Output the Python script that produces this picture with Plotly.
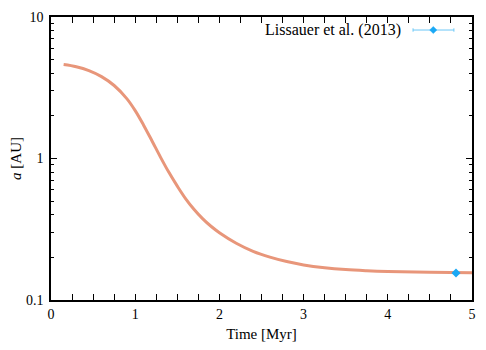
import plotly.graph_objects as go

# Curve: semi-major axis vs time
time_myr = [0.15, 0.3, 0.45, 0.6, 0.75, 0.9, 1.0, 1.1, 1.2, 1.3, 1.4, 1.5, 1.6, 1.7, 1.8, 1.9, 2.0,
            2.2, 2.4, 2.6, 2.8, 3.0, 3.25, 3.5, 3.75, 4.0, 4.5, 5.0]
a_au = [4.61, 4.45, 4.18, 3.79, 3.28, 2.65, 2.18, 1.72, 1.33, 1.023, 0.798, 0.638, 0.519, 0.436, 0.376, 0.332, 0.299,
        0.252, 0.221, 0.201, 0.187, 0.177, 0.169, 0.164, 0.161, 0.159, 0.157, 0.156]

# Observation point
obs_time = [4.81]
obs_a = [0.155]
obs_label = "Lissauer et al. (2013)"

x_ticks = [0, 1, 2, 3, 4, 5]
y_tickvals = [0.1, 1, 10]
y_ticktext = ["0.1", "1", "10"]
y_minor = [m * d for d in (0.1, 1) for m in range(2, 10)]

FONT = "Liberation Serif"
FS_TICK = 14
FS_TEXT = 15
fig = go.Figure()
fig.add_trace(go.Scatter(x=time_myr, y=a_au, mode="lines",
                         line=dict(color="#E8967A", width=3, shape="spline", smoothing=1.0),
                         showlegend=False))
fig.add_trace(go.Scatter(x=obs_time, y=obs_a, mode="markers",
                         marker=dict(symbol="diamond", size=7, color="#1AA8F5"),
                         showlegend=False))
# invisible trace so the minor-tick overlay axis is drawn
fig.add_trace(go.Scatter(x=obs_time, y=obs_a, yaxis="y2", mode="markers",
                         marker=dict(opacity=0), showlegend=False, hoverinfo="skip"))

# manual legend (text then symbol, as in the reference)
ly = 0.954
fig.add_annotation(x=0.836, y=ly, xref="paper", yref="paper", text=obs_label,
                   showarrow=False, xanchor="right", yanchor="middle",
                   font=dict(family=FONT, size=16, color="black"))
lx0, lx1 = 0.860, 0.957
fig.add_shape(type="line", xref="paper", yref="paper", x0=lx0, x1=lx1, y0=ly, y1=ly,
              line=dict(color="#6CC8F7", width=1))
for xv in (lx0, lx1):
    fig.add_shape(type="line", xref="paper", yref="paper", x0=xv, x1=xv, y0=ly - 0.006, y1=ly + 0.006,
                  line=dict(color="#6CC8F7", width=1))
cx, dx, dy = 0.908, 0.0085, 0.0125
fig.add_shape(type="path", xref="paper", yref="paper",
              path=f"M {cx-dx} {ly} L {cx} {ly+dy} L {cx+dx} {ly} L {cx} {ly-dy} Z",
              fillcolor="#1AA8F5", line=dict(color="#1AA8F5", width=0.5))

axis_common = dict(showline=True, linecolor="black", linewidth=1.5, mirror="allticks",
                   ticks="inside", ticklen=6, tickwidth=1, tickcolor="black",
                   showgrid=False, zeroline=False, automargin=False,
                   tickfont=dict(family=FONT, size=FS_TICK, color="black"))
fig.update_layout(
    xaxis=dict(range=[0, 5], tickvals=x_ticks,
               minor=dict(ticks="inside", ticklen=3, tickcolor="black", dtick=0.25, showgrid=False),
               title=dict(text="Time [Myr]", font=dict(family=FONT, size=FS_TEXT, color="black"), standoff=8),
               **axis_common),
    yaxis=dict(type="log", range=[-1, 1], tickvals=y_tickvals, ticktext=y_ticktext, ticklabelstandoff=3,
               title=dict(text="<i>a</i> [AU]", font=dict(family=FONT, size=FS_TEXT, color="black"), standoff=8),
               **axis_common),
    yaxis2=dict(type="log", range=[-1, 1], overlaying="y", side="left", tickvals=y_minor,
                showticklabels=False, ticks="inside", ticklen=3, tickwidth=1, tickcolor="black",
                mirror="allticks", showline=True, linecolor="black", linewidth=1.5,
                showgrid=False, zeroline=False, automargin=False),
    width=486, height=350, margin=dict(l=43, r=22, t=9, b=58),
    paper_bgcolor="white", plot_bgcolor="white")
fig.write_html("out.html")
